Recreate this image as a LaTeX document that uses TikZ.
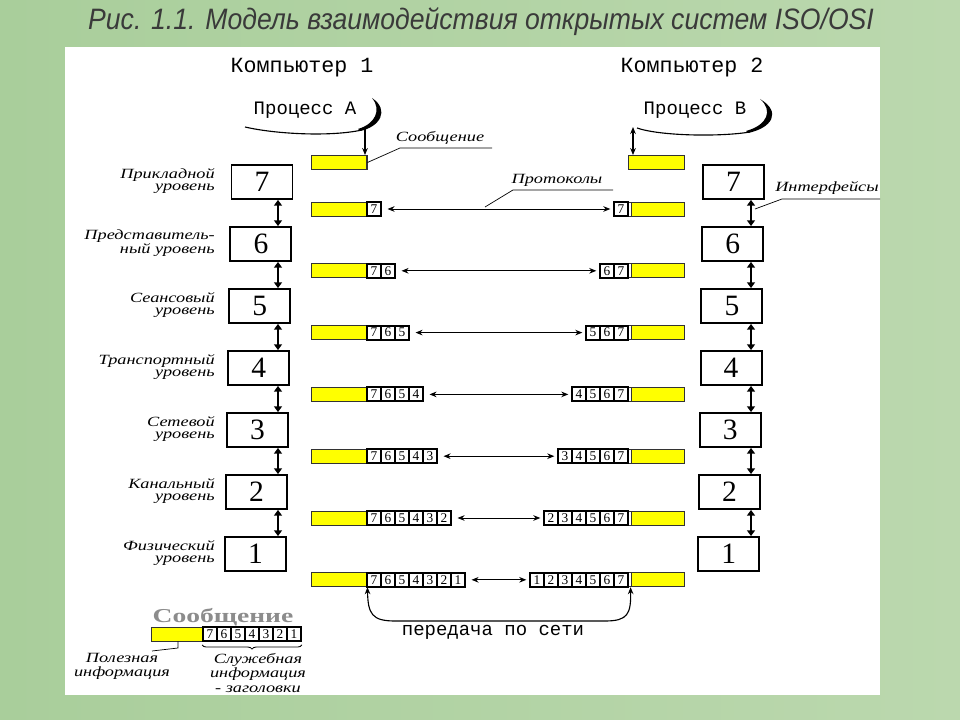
\documentclass[tikz,border=0pt]{standalone}
\usepackage{fontspec}
\setmainfont{Liberation Serif}
\newfontfamily\titlefont{Liberation Sans}
\newfontfamily\monofont{Liberation Mono}
\newfontfamily\lblfont{Liberation Serif}[FakeStretch=1.3]
\newfontfamily\wideserif{Liberation Serif}[FakeStretch=1.4]
\usetikzlibrary{arrows.meta,decorations.pathreplacing,calc}
\definecolor{bgA}{HTML}{A9CE9B}
\definecolor{bgB}{HTML}{BBD8AE}
\definecolor{ttl}{HTML}{3A3A3A}
\definecolor{ybar}{HTML}{FFFF00}
\definecolor{bord}{HTML}{333333}
\definecolor{lgray}{HTML}{8C8C8C}
\begin{document}
\begin{tikzpicture}[x=0.025cm,y=-0.025cm,
  lay/.style={draw=black, line width=1.3pt, fill=white, minimum width=61*0.025cm, minimum height=34*0.025cm, inner sep=0pt, font=\fontsize{21}{21}\selectfont},
  ybarbox/.style={draw=bord, line width=0.6pt, fill=ybar, minimum height=14*0.025cm, inner sep=0pt},
  cell/.style={draw=black, line width=1.3pt, fill=white, minimum width=14*0.025cm, minimum height=14*0.025cm, inner sep=0pt, font=\fontsize{9.5}{9.5}\selectfont},
  strip/.style={draw=bord, line width=0.6pt, fill=white, minimum width=3*0.025cm, minimum height=14*0.025cm, inner sep=0pt},
  ifarr/.style={line width=1.6pt, {Triangle[length=4pt,width=5.5pt]}-{Triangle[length=4pt,width=5.5pt]}},
  proto/.style={line width=0.6pt, {Stealth[length=5pt,width=4pt]}-{Stealth[length=5pt,width=4pt]}},
  lbl/.style={font=\lblfont\itshape\fontsize{10}{9}\selectfont, inner sep=0pt},
  leader/.style={line width=0.5pt},
  big/.style={font=\monofont\fontsize{15.4}{16}\selectfont, inner sep=0pt},
  mid/.style={font=\monofont\fontsize{13.5}{14}\selectfont, inner sep=0pt}]
% background
\shade[left color=bgA, right color=bgB] (0,0) rectangle (960,720);
\useasboundingbox (0,0) rectangle (960,720);
\fill[white] (65,47) rectangle (880,695);
% title
\node[font=\titlefont\itshape\fontsize{21}{24}\selectfont, text=ttl] (title) at (481,22) {\scalebox{0.9}[1]{Рис. 1.1. Модель взаимодействия открытых систем ISO/OSI}};
% computers
\node[big] (c1) at (302,68) {Компьютер 1};
\node[big] (c2) at (692,68) {Компьютер 2};
% processes
\node[mid] (pa) at (305,110) {Процесс А};
\node[mid] (pb) at (695,110) {Процесс В};
\draw[line width=0.8pt] (245,127) .. controls (275,134) and (330,137) .. (362,130);
\fill (360,131) .. controls (380,127) and (390,110) .. (372,98) .. controls (382,110) and (375,124) .. (358,129) -- cycle;
\draw[line width=0.8pt] (637,128) .. controls (660,136) and (720,137) .. (750,132);
\fill (748,133) .. controls (772,128) and (782,112) .. (760,99) .. controls (773,110) and (768,125) .. (746,131) -- cycle;
% top message bars
\node[ybarbox, minimum width=56*0.025cm] (ytl) at (339,162.5) {};
\node[ybarbox, minimum width=56*0.025cm] (ytr) at (656,162.5) {};
\draw[line width=1.5pt, bord] (ytl.north east) -- (ytl.south east);
\coordinate (pA) at (365,127);
\coordinate (pB) at (633,127);
\draw[line width=0.8pt, -{Stealth[length=5pt,width=4pt]}] (pA) -- (ytl.north -| pA);
\draw[line width=0.8pt, {Stealth[length=5pt,width=4pt]}-{Stealth[length=5pt,width=4pt]}] (pB) -- (ytr.north -| pB);
% message label
\node[lbl] (msg) at (440,138) {Сообщение};
\coordinate (msgR) at (492,148);
\coordinate (msgL) at (400,148);
\draw[leader] (msgR) -- (msgL) -- (ytl.east);
% layer boxes
\foreach \i in {0,...,6} {
  \pgfmathtruncatemacro\n{7-\i}
  \pgfmathsetmacro\yy{182+62*\i}
  \pgfmathsetmacro\xl{262-1.1*\i}
  \pgfmathsetmacro\xr{733.5-0.8*\i}
  \node[lay] (L\n) at (\xl,\yy) {\n};
  \node[lay] (R\n) at (\xr,\yy) {\n};
}
\coordinate (axL) at (278,0);
\coordinate (axR) at (751,0);
\foreach \n in {7,...,2} {
  \pgfmathtruncatemacro\m{\n-1}
  \draw[ifarr] (L\n.south -| axL) -- (L\m.north -| axL);
  \draw[ifarr] (R\n.south -| axR) -- (R\m.north -| axR);
}
% layer labels
\node[lbl, anchor=east, align=right] (t7) at (215,181) {Прикладной\\уровень};
\node[lbl, anchor=east, align=right] (t6) at (215,243) {Представитель-\\ный уровень};
\node[lbl, anchor=east, align=right] (t5) at (215,305) {Сеансовый\\уровень};
\node[lbl, anchor=east, align=right] (t4) at (215,367) {Транспортный\\уровень};
\node[lbl, anchor=east, align=right] (t3) at (215,429) {Сетевой\\уровень};
\node[lbl, anchor=east, align=right] (t2) at (215,491) {Канальный\\уровень};
\node[lbl, anchor=east, align=right] (t1) at (215,553) {Физический\\уровень};
% rows of frames
\foreach \i in {0,...,6} {
  \pgfmathsetmacro\yy{209+61.8*\i}
  \pgfmathtruncatemacro\k{\i+1}
  \node[ybarbox, minimum width=56*0.025cm] (yl\i) at (339,\yy) {};
  \node[strip] (ys\i) at (629.5,\yy) {};
  \node[ybarbox, minimum width=53*0.025cm] (yr\i) at (657.5,\yy) {};
  \foreach \j in {1,...,\k} {
    \pgfmathtruncatemacro\dl{8-\j}
    \pgfmathtruncatemacro\dr{6-\i+\j}
    \pgfmathsetmacro\xcl{360+14*\j}
    \pgfmathsetmacro\xcr{621-14*(\k-\j)}
    \node[cell] (lc\i-\j) at (\xcl,\yy) {\dl};
    \node[cell] (rc\i-\j) at (\xcr,\yy) {\dr};
  }
  \draw[proto, shorten <=4pt, shorten >=2pt] (lc\i-\k.east) -- (rc\i-1.west);
}
% protocols label
\node[lbl] (prot) at (557,180) {Протоколы};
\coordinate (prR) at (613,190);
\coordinate (prL) at (513,190);
\coordinate (prE) at (485,207);
\draw[leader] (prR) -- (prL) -- (prE);
% interfaces label
\node[lbl] (intf) at (827,188) {Интерфейсы};
\coordinate (ifR) at (880,199);
\coordinate (ifL) at (782,199);
\coordinate (ifE) at (755,209);
\draw[leader] (ifR) -- (ifL) -- (ifE);
% network transfer
\draw[line width=0.8pt, {Stealth[length=5pt,width=4pt]}-{Stealth[length=5pt,width=4pt]}] (yl6.south east) .. controls (368,614) and (372,621) .. (395,621) -- (605,621) .. controls (628,621) and (631,614) .. (yr6.south west);
\node[mid] (net) at (493,632) {передача по сети};
% legend
\node[font=\wideserif\bfseries\fontsize{14}{14}\selectfont, text=lgray, inner sep=0pt] (lgt) at (223,617) {Сообщение};
\node[ybarbox, minimum width=52*0.025cm] (lgy) at (177,634) {};
\foreach \j in {1,...,7} {
  \pgfmathtruncatemacro\dl{8-\j}
  \pgfmathsetmacro\xc{196+14*\j}
  \node[cell] (lg\j) at (\xc,634) {\dl};
}
\draw[line width=0.6pt, decorate, decoration={brace, mirror, amplitude=3pt}] ([yshift=-3*0.025cm]lg1.south west) -- ([yshift=-3*0.025cm]lg7.south east);
\coordinate (lgA) at (178,648);
\coordinate (lgB) at (152,651);
\draw[leader] (lgy.south -| lgA) -- (lgA) -- (lgB);
\node[lbl, align=center, font=\lblfont\itshape\fontsize{10}{10}\selectfont] (pl) at (122,666) {Полезная\\информация};
\node[lbl, align=center, font=\lblfont\itshape\fontsize{10}{10}\selectfont] (sl) at (258,673) {Служебная\\информация\\- заголовки};
\end{tikzpicture}
\end{document}
